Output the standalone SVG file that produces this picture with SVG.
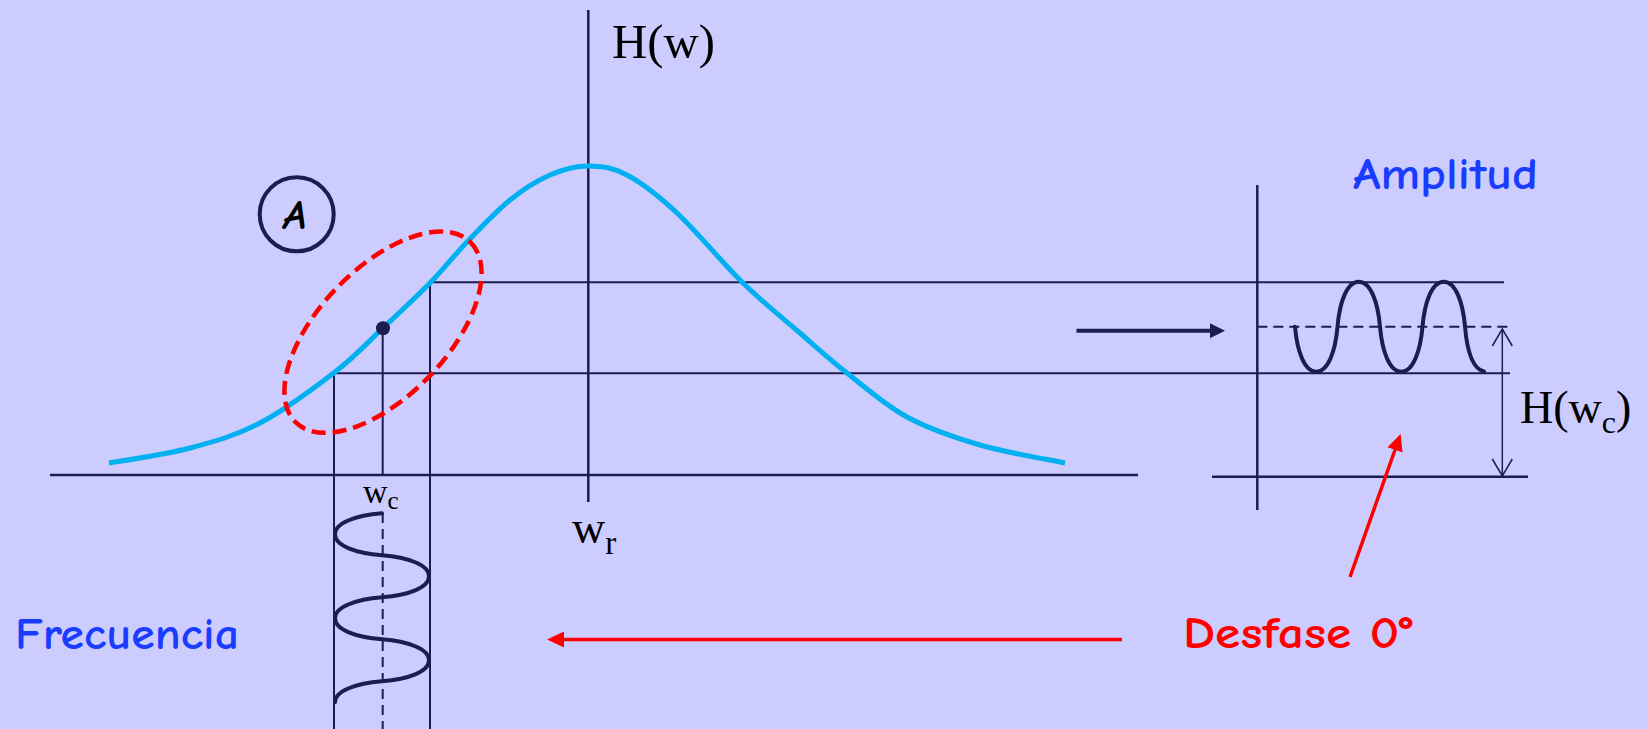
<svg xmlns="http://www.w3.org/2000/svg" width="1648" height="729" viewBox="0 0 1648 729">
<style>
.ax{stroke:#1c1c50;stroke-width:2.5;fill:none}
.thin{stroke:#1c1c50;stroke-width:2;fill:none}
.dash{stroke:#1c1c50;stroke-width:2;fill:none;stroke-dasharray:10 6}
.wave{stroke:#1c1c50;stroke-width:4;fill:none;stroke-linecap:round}
.curve{stroke:#00b0f0;stroke-width:5;fill:none}
.serif{font-family:"Liberation Serif","DejaVu Serif",serif;fill:#000}
.comic{font-family:"Comic Sans MS","Comic Neue","Open Sans",sans-serif;font-weight:700}
.blue{fill:#1a3cff}
.red{fill:#ff0000}
</style>
<defs>
<marker id="headNavy" viewBox="0 0 15 15" refX="1" refY="7.5" markerWidth="15" markerHeight="15" markerUnits="userSpaceOnUse" orient="auto"><path d="M0,0 L15,7.5 L0,15 z" fill="#1c1c50"/></marker>
<marker id="headRed" viewBox="0 0 17 16" refX="1" refY="8" markerWidth="17" markerHeight="16" markerUnits="userSpaceOnUse" orient="auto"><path d="M0,0 L17,8 L0,16 z" fill="#ff0000"/></marker>
<marker id="openV" viewBox="-19 -12 21 24" refX="0" refY="0" markerWidth="21" markerHeight="24" markerUnits="userSpaceOnUse" orient="auto-start-reverse"><path d="M-17,-10 L0,0 L-17,10" fill="none" stroke="#1c1c50" stroke-width="1.5"/></marker>
</defs>
<rect width="1648" height="729" fill="#ccccff"/>

<g id="axes-main">
<line class="ax" x1="50" y1="475" x2="1138" y2="475"/>
<line class="ax" x1="588.3" y1="10" x2="588.3" y2="502"/>
</g>

<g id="guide-lines">
<line class="thin" x1="430" y1="282.3" x2="1504" y2="282.3"/>
<line class="thin" x1="334" y1="373.3" x2="1510" y2="373.3"/>
<line class="thin" x1="334" y1="373.3" x2="334" y2="729"/>
<line class="thin" x1="430" y1="282.3" x2="430" y2="729"/>
<line class="thin" x1="382.7" y1="328" x2="382.7" y2="475"/>
<line class="dash" x1="382.7" y1="513" x2="382.7" y2="729"/>
</g>

<g id="response-curve">
<path class="curve" d="M109,463 C124,460.5 164.8,454.7 190,448 C215.2,441.3 235.8,435.7 260,423 C284.2,410.3 314.5,387.8 335,372 C355.5,356.2 367.2,342.8 383,328 C398.8,313.2 416,297.3 430,283 C444,268.7 453.7,255.8 467,242 C480.3,228.2 496.2,211.2 510,200 C523.8,188.8 537,180.7 550,175 C563,169.3 575.2,166 588,166 C600.8,166 612.2,167.2 627,175 C641.8,182.8 657.7,195 677,213 C696.3,231 722.5,263 743,283 C763.5,303 782.7,318 800,333 C817.3,348 829.2,359 847,373 C864.8,387 884.8,405 907,417 C929.2,429 953.7,437.3 980,445 C1006.3,452.7 1050.8,460 1065,463"/>
</g>

<g id="point-wc">
<circle cx="383" cy="328.3" r="7" fill="#1c1c50"/>
</g>

<g id="region-ellipse">
<ellipse cx="383" cy="332.2" rx="125.5" ry="64" transform="rotate(-46 383 332.2)" fill="none" stroke="#ff0000" stroke-width="4.5" stroke-dasharray="14 7"/>
</g>

<g id="label-A">
<circle cx="296.7" cy="214.3" r="37" fill="none" stroke="#1c1c50" stroke-width="4"/>
<text class="comic" x="295" y="229" font-size="42" font-style="italic" text-anchor="middle" fill="#000">A</text>
</g>

<g id="input-wave">
<path class="wave" d="M382,513.3 C356.1,515.4 335,522.7 335,534.3 C335,545.9 356.1,553.2 382,555.3 C407.9,557.4 429,564.7 429,576.3 C429,587.9 407.9,595.2 382,597.3 C356.1,599.4 335,606.7 335,618.3 C335,629.9 356.1,637.2 382,639.3 C407.9,641.4 429,648.7 429,660.3 C429,671.9 407.9,679.2 382,681.3 C356.1,683.4 335,690.7 335,702.3"/>
</g>

<g id="output-plot">
<line class="ax" x1="1257.3" y1="185" x2="1257.3" y2="510"/>
<line class="ax" x1="1212" y1="476.7" x2="1528" y2="476.7"/>
<line class="dash" x1="1257.3" y1="326.7" x2="1512" y2="326.7"/>
<path class="wave" d="M1295,326.7 C1297.1,351.5 1304.52,371.7 1316.25,371.7 C1327.98,371.7 1335.4,351.5 1337.5,326.7 C1339.6,301.9 1347.02,281.7 1358.75,281.7 C1370.48,281.7 1377.9,301.9 1380,326.7 C1382.1,351.5 1389.52,371.7 1401.25,371.7 C1412.98,371.7 1420.4,351.5 1422.5,326.7 C1424.6,301.9 1432.02,281.7 1443.75,281.7 C1455.48,281.7 1462.9,301.9 1465,326.7 C1467.1,351.5 1472.5,369 1484,371.5"/>
</g>

<g id="connectors">
<line x1="1076.5" y1="330.7" x2="1211" y2="330.7" stroke="#1c1c50" stroke-width="4" marker-end="url(#headNavy)"/>
<line x1="1122" y1="639.5" x2="563" y2="639.5" stroke="#ff0000" stroke-width="3.5" marker-end="url(#headRed)"/>
<line x1="1350" y1="577" x2="1395.3" y2="449" stroke="#ff0000" stroke-width="3.5" marker-end="url(#headRed)"/>
<line x1="1502.3" y1="329" x2="1502.3" y2="476" stroke="#1c1c50" stroke-width="1.5" marker-start="url(#openV)" marker-end="url(#openV)"/>
</g>

<g id="labels">
<text class="serif" x="612" y="58" font-size="48" textLength="103" lengthAdjust="spacingAndGlyphs">H(w)</text>
<text class="serif" x="363" y="503" font-size="34">w<tspan font-size="25" dy="6">c</tspan></text>
<text class="serif" x="572" y="543" font-size="46">w<tspan font-size="33" dy="11">r</tspan></text>
<text class="serif" x="1520" y="423" font-size="46">H(w<tspan font-size="32" dy="10">c</tspan><tspan dy="-10">)</tspan></text>
<text class="comic blue" x="1353" y="189" font-size="44" textLength="185" lengthAdjust="spacingAndGlyphs">Amplitud</text>
<text class="comic blue" x="15" y="649" font-size="44" textLength="224" lengthAdjust="spacingAndGlyphs">Frecuencia</text>
<text class="comic red" x="1183" y="648" font-size="44" textLength="230" lengthAdjust="spacingAndGlyphs">Desfase 0°</text>
</g>
</svg>
